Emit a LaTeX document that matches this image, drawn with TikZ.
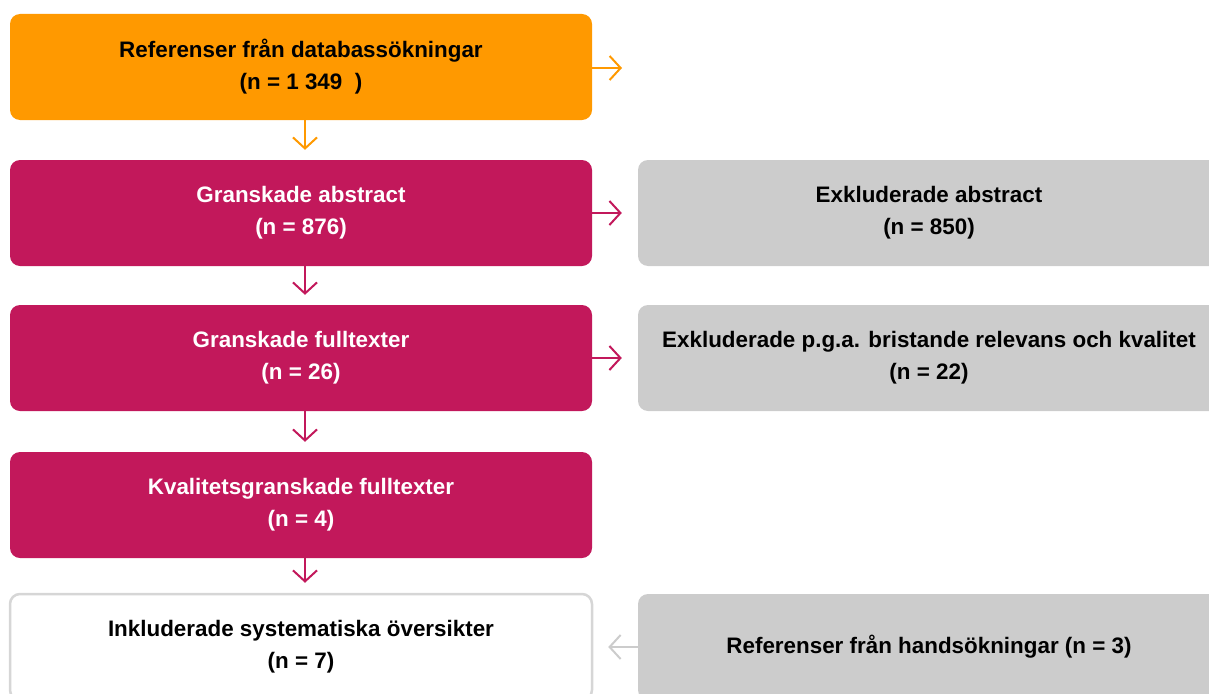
\documentclass[tikz,border=0pt]{standalone}
\usepackage{fontspec}
\setmainfont{Liberation Sans}
\usetikzlibrary{arrows.meta}

\definecolor{refgul}{HTML}{FF9900}
\definecolor{granrod}{HTML}{C2185B}
\definecolor{exgra}{HTML}{CCCCCC}
\definecolor{inklgra}{HTML}{D6D6D6}

\tikzset{
  box/.style={rounded corners=10pt, minimum width=582pt, minimum height=106pt,
    inner sep=0pt, align=center, font=\bfseries\fontsize{22.4}{32}\selectfont},
  refbox/.style={box, fill=refgul, text=black},
  granbox/.style={box, fill=granrod, text=white},
  exbox/.style={box, fill=exgra, text=black},
  inklbox/.style={box, draw=inklgra, line width=2.5pt, fill=white, text=black},
  pil/.style={line width=2pt, -{Straight Barb[length=11pt, width=24pt]}}
}

\begin{document}
\begin{tikzpicture}[x=1pt,y=-1pt]
  \useasboundingbox (0,0) rectangle (1209,693);
  \clip (0,0) rectangle (1209,693);

  % vänster kolumn
  \node[refbox]  (ref)   at (301,67)  {Referenser från databassökningar\\(n = 1 349\ \ )};
  \node[granbox] (abst)  at (301,213) {Granskade abstract\\(n = 876)};
  \node[granbox] (full)  at (301,358) {Granskade fulltexter\\(n = 26)};
  \node[granbox] (kval)  at (301,505) {Kvalitetsgranskade fulltexter\\(n = 4)};
  \node[inklbox] (inkl)  at (301,647) {Inkluderade systematiska översikter\\(n = 7)};

  % höger kolumn
  \node[exbox] (exabst) at (929,213) {Exkluderade abstract\\(n = 850)};
  \node[exbox] (exfull) at (929,358) {Exkluderade p.g.a. bristande relevans och kvalitet\\(n = 22)};
  \node[exbox] (hand)   at (929,647) {Referenser från handsökningar (n = 3)};

  \coordinate (refut) at (622,68);

  % pilar
  \draw[pil, refgul] (ref.east |- refut) -- (refut);
  \draw[pil, refgul, shorten >=10pt] ([xshift=4pt]ref.south) -- ([xshift=4pt]abst.north);
  \foreach \a/\b in {abst/full, full/kval, kval/inkl}
    \draw[pil, granrod, shorten >=10pt] ([xshift=4pt]\a.south) -- ([xshift=4pt]\b.north);
  \foreach \a/\b in {abst/exabst, full/exfull}
    \draw[pil, granrod, shorten >=16pt] (\a.east) -- (\b.west);
  \draw[pil, exgra, shorten >=15pt] (hand.west) -- (inkl.east);
\end{tikzpicture}
\end{document}
